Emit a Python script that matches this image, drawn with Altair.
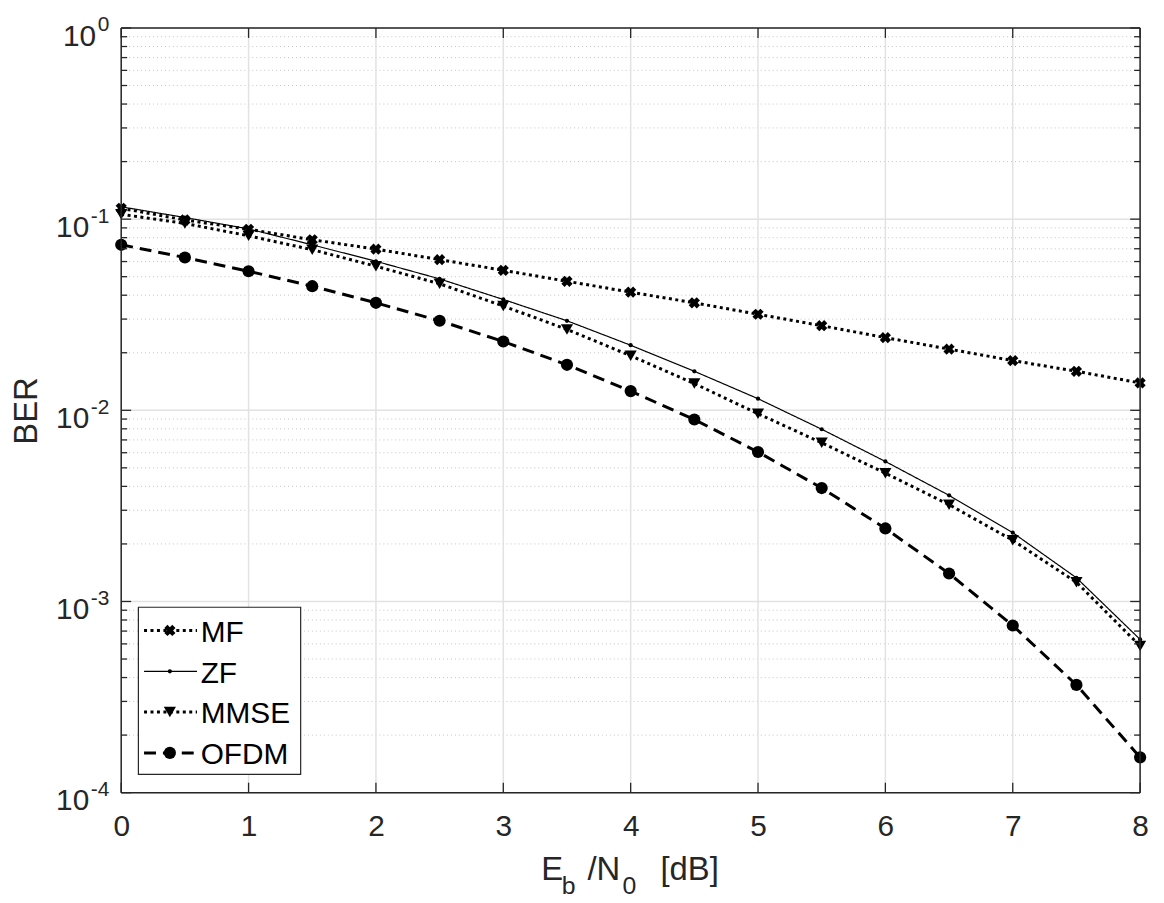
import altair as alt
import pandas as pd

FONT = "Liberation Sans"
AX = "#262626"

# ---------------- data ----------------
ebn0 = [0, 0.5, 1, 1.5, 2, 2.5, 3, 3.5, 4, 4.5, 5, 5.5, 6, 6.5, 7, 7.5, 8]
series_names = ["MF", "ZF", "MMSE", "OFDM"]
ber_mf = [0.114, 0.099, 0.0885, 0.078, 0.0697, 0.0614, 0.054, 0.0473, 0.0415,
          0.0365, 0.0318, 0.0277, 0.024, 0.0209, 0.0182, 0.016, 0.0139]
ber_zf = [0.116, 0.102, 0.0889, 0.0734, 0.0602, 0.0487, 0.038, 0.0294, 0.0219,
          0.016, 0.0115, 0.00796, 0.0054, 0.00359, 0.00229, 0.00133, 0.000633]
ber_mmse = [0.106, 0.095, 0.0818, 0.0692, 0.0567, 0.0459, 0.0351, 0.0265, 0.0193,
            0.0138, 0.0096, 0.00676, 0.00469, 0.00321, 0.00209, 0.00126, 0.000585]
ber_ofdm = [0.0734, 0.063, 0.0534, 0.0446, 0.0365, 0.0294, 0.0229, 0.0173, 0.0126,
            0.00895, 0.00605, 0.00392, 0.00241, 0.0014, 0.000749, 0.000366, 0.000153]

x_ticks = [0, 1, 2, 3, 4, 5, 6, 7, 8]
y_major = [1e-4, 1e-3, 1e-2, 1e-1, 1.0]
y_exp = ["-4", "-3", "-2", "-1", "0"]
y_minor = [m * 10.0 ** e for e in range(-4, 0) for m in range(2, 10)]

values = {"MF": ber_mf, "ZF": ber_zf, "MMSE": ber_mmse, "OFDM": ber_ofdm}

# ---------------- styles ----------------
styles = {
    "MF":   dict(width=3, dash=[3, 3.5], shape="cross", size=130, angle=45),
    "ZF":   dict(width=1.2, dash=[1, 0], shape="circle", size=18, angle=0),
    "MMSE": dict(width=3, dash=[3, 3.5], shape="triangle-down", size=150, angle=0),
    "OFDM": dict(width=3, dash=[12, 7], shape="circle", size=150, angle=0),
}

W, H = 1026, 770
xs = alt.Scale(domain=[0, 8], nice=False, zero=False)
ys = alt.Scale(type="log", domain=[1e-4, 1], nice=False)
xaxis = alt.Axis(values=x_ticks, format="d", grid=False, ticks=False, tickSize=0,
                 domain=False, labelFont=FONT, labelFontSize=30, labelColor=AX,
                 labelBaseline="alphabetic", labelPadding=43, title=None,
                 labelFlush=False, labelOverlap=False)
X = alt.X("x:Q", scale=xs, axis=xaxis)
Y = alt.Y("y:Q", scale=ys, axis=None)

one = pd.DataFrame({"a": [0]})
layers = []

# grid
df_minor = pd.DataFrame({"y": y_minor})
df_major = pd.DataFrame({"y": y_major, "exp": y_exp})
df_xt = pd.DataFrame({"x": x_ticks})
layers.append(alt.Chart(df_minor).mark_rule(color="#c6c6c6", strokeWidth=1, strokeDash=[1, 3])
              .encode(y=Y, x=alt.value(0), x2=alt.value(W)))
layers.append(alt.Chart(df_major).mark_rule(color="#e2e2e2", strokeWidth=1.5)
              .encode(y=Y, x=alt.value(0), x2=alt.value(W)))
layers.append(alt.Chart(df_xt).mark_rule(color="#e2e2e2", strokeWidth=1.5)
              .encode(x=X, y=alt.value(0), y2=alt.value(H)))

# data series
for name in series_names:
    st = styles[name]
    df = pd.DataFrame({"x": ebn0, "y": values[name]})
    layers.append(alt.Chart(df).mark_line(color="black", strokeWidth=st["width"],
                                          strokeDash=st["dash"])
                  .encode(x=X, y=Y))
    layers.append(alt.Chart(df).mark_point(filled=True, color="black", opacity=1,
                                           shape=st["shape"], size=st["size"],
                                           angle=st["angle"], strokeWidth=0)
                  .encode(x=X, y=Y))

# legend
layers.append(alt.Chart(one).mark_rect(fill="white", stroke=AX, strokeWidth=1.2)
              .encode(x=alt.value(17.3), x2=alt.value(180.7),
                      y=alt.value(583.3), y2=alt.value(751.7)))
for i, name in enumerate(series_names):
    st = styles[name]
    ly = 606.7 + 41.1 * i
    layers.append(alt.Chart(one).mark_rule(color="black", strokeWidth=st["width"],
                                           strokeDash=st["dash"])
                  .encode(x=alt.value(23), x2=alt.value(76.3), y=alt.value(ly)))
    layers.append(alt.Chart(one).mark_point(filled=True, color="black", opacity=1,
                                            shape=st["shape"], size=st["size"],
                                            angle=st["angle"], strokeWidth=0)
                  .encode(x=alt.value(49), y=alt.value(ly)))
    layers.append(alt.Chart(one).mark_text(text=name, font=FONT, fontSize=30,
                                           align="left", baseline="alphabetic",
                                           color="black")
                  .encode(x=alt.value(80), y=alt.value(ly + 11.3)))

# box
for enc in [dict(x=alt.value(0), x2=alt.value(W), y=alt.value(0)),
            dict(x=alt.value(0), x2=alt.value(W), y=alt.value(H)),
            dict(y=alt.value(0), y2=alt.value(H), x=alt.value(0)),
            dict(y=alt.value(0), y2=alt.value(H), x=alt.value(W))]:
    layers.append(alt.Chart(one).mark_rule(color=AX, strokeWidth=1.5).encode(**enc))

# inward ticks
df_ymaj_t = pd.DataFrame({"y": y_major})
for df_t, ln in [(df_ymaj_t, 10), (df_minor, 6)]:
    layers.append(alt.Chart(df_t).mark_rule(color=AX, strokeWidth=1.3)
                  .encode(y=Y, x=alt.value(0), x2=alt.value(ln)))
    layers.append(alt.Chart(df_t).mark_rule(color=AX, strokeWidth=1.3)
                  .encode(y=Y, x=alt.value(W - ln), x2=alt.value(W)))
layers.append(alt.Chart(df_xt).mark_rule(color=AX, strokeWidth=1.3)
              .encode(x=X, y=alt.value(H - 10), y2=alt.value(H)))
layers.append(alt.Chart(df_xt).mark_rule(color=AX, strokeWidth=1.3)
              .encode(x=X, y=alt.value(0), y2=alt.value(10)))

# y tick labels: 10^e
layers.append(alt.Chart(df_major).transform_filter("datum.exp == '0'")
              .mark_text(text="10", font=FONT, fontSize=30, align="right",
                         baseline="alphabetic", dy=17.8, color=AX)
              .encode(y=Y, x=alt.value(-12 - 11.7 - 1.5)))
layers.append(alt.Chart(df_major).transform_filter("datum.exp != '0'")
              .mark_text(text="10", font=FONT, fontSize=30, align="right",
                         baseline="alphabetic", dy=17.8, color=AX)
              .encode(y=Y, x=alt.value(-12 - 18.7 - 1.5)))
layers.append(alt.Chart(df_major)
              .mark_text(font=FONT, fontSize=21, align="left",
                         baseline="alphabetic", dy=3.5, color=AX)
              .encode(y=Y, x=alt.value(-12 - 18.7), text="exp:N")
              .transform_filter("datum.exp != '0'"))
layers.append(alt.Chart(df_major)
              .mark_text(font=FONT, fontSize=21, align="left",
                         baseline="alphabetic", dy=3.5, color=AX)
              .encode(y=Y, x=alt.value(-12 - 11.7), text="exp:N")
              .transform_filter("datum.exp == '0'"))

# axis titles
def txt(s, x, y, size, angle=0, align="left"):
    return (alt.Chart(one).mark_text(text=s, font=FONT, fontSize=size, align=align,
                                     baseline="alphabetic", angle=angle, color=AX)
            .encode(x=alt.value(x), y=alt.value(y)))

layers.append(txt("E", 423, 857.7, 33))
layers.append(txt("b", 443.5, 872, 25))
layers.append(txt("/N", 469.5, 857.7, 33))
layers.append(txt("0", 504.7, 872, 25))
layers.append(txt("[dB]", 543, 857.7, 33))
layers.append(txt("BER", -85.3, 385.7, 33, angle=270, align="center"))

chart = (alt.layer(*layers)
         .properties(width=W, height=H,
                     autosize=alt.AutoSizeParams(type="none"),
                     padding={"left": 114, "top": 17, "right": 16, "bottom": 106},
                     background="white")
         .configure_view(stroke=None))

chart.save("out.html", embed_options={"renderer": "svg", "actions": False})
